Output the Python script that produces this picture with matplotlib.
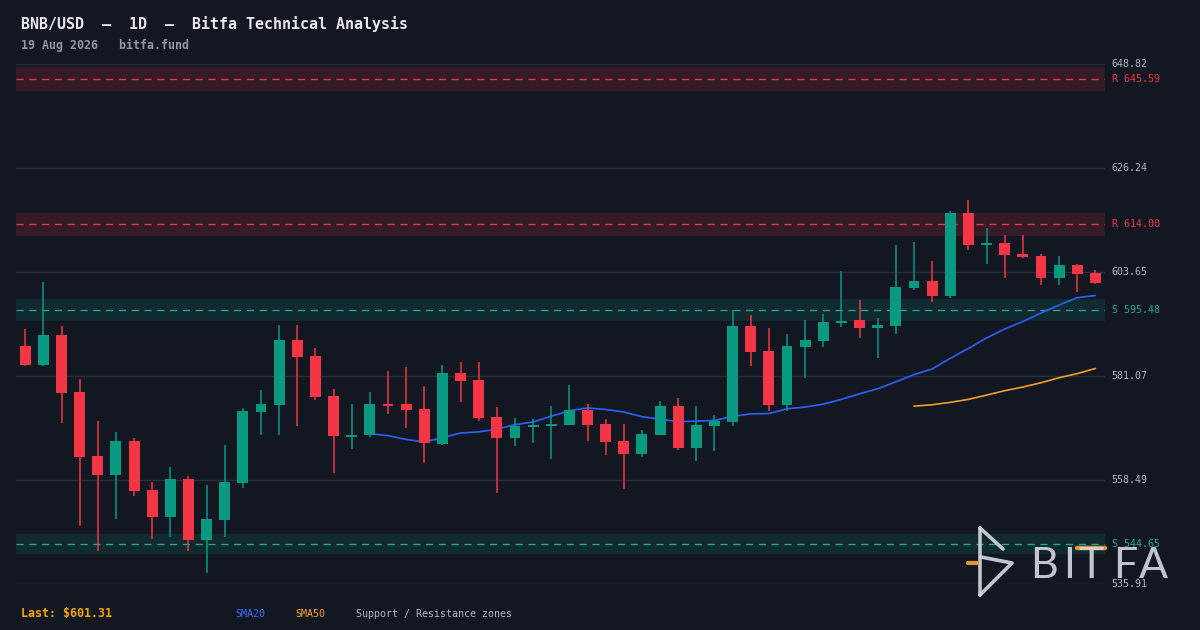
import numpy as np
import pandas as pd
import matplotlib
matplotlib.use("Agg")
import matplotlib.pyplot as plt
from matplotlib.lines import Line2D

# ---------------- data ----------------
opens = [587.65, 583.52, 590.04, 577.66, 563.77, 559.64, 567.02, 556.38, 550.52, 558.77,
         545.53, 549.87, 557.90, 573.32, 574.84, 588.95, 585.48, 576.80, 567.90, 568.32,
         575.06, 575.06, 573.97, 566.37, 581.79, 580.27, 572.23, 567.67, 570.06, 570.28,
         570.50, 573.75, 570.72, 567.02, 564.20, 568.32, 574.62, 565.50, 570.28, 571.15,
         591.99, 586.56, 574.84, 587.43, 588.73, 592.65, 593.29, 591.56, 591.99, 600.24,
         601.76, 598.50, 616.52, 609.58, 610.01, 607.62, 607.19, 602.41, 605.23, 603.50]
highs = [591.34, 601.54, 591.99, 580.48, 571.36, 568.98, 567.67, 558.12, 561.38, 559.42,
         557.47, 566.15, 574.19, 578.09, 592.21, 592.21, 587.21, 578.31, 575.06, 577.66,
         582.22, 583.09, 578.96, 583.52, 584.17, 584.17, 574.40, 572.02, 571.80, 574.62,
         579.18, 575.06, 571.80, 570.72, 569.41, 575.71, 576.36, 574.62, 572.67, 595.46,
         594.38, 591.56, 590.25, 593.29, 594.60, 603.93, 597.64, 593.73, 609.58, 610.23,
         606.10, 616.96, 619.35, 613.14, 611.75, 611.75, 607.62, 607.19, 605.45, 604.15]
lows = [583.30, 583.30, 570.78, 548.41, 543.14, 550.09, 555.08, 545.74, 546.18, 543.14,
        538.36, 546.18, 556.82, 568.32, 568.32, 570.13, 575.92, 560.07, 565.28, 567.89,
        572.88, 569.84, 562.25, 566.15, 575.49, 571.36, 555.58, 565.94, 566.59, 563.11,
        570.40, 567.02, 563.98, 556.60, 563.55, 568.20, 565.06, 562.68, 564.85, 570.28,
        583.31, 573.54, 573.54, 580.70, 587.43, 591.77, 589.38, 585.04, 590.25, 599.81,
        597.20, 598.07, 608.49, 605.45, 602.41, 606.80, 600.89, 600.89, 599.37, 601.00]
closes = [583.52, 590.04, 577.44, 563.55, 559.64, 567.02, 556.17, 550.52, 558.77, 545.53,
          550.09, 558.12, 573.54, 575.06, 588.95, 585.26, 576.58, 568.11, 568.30, 575.06,
          574.62, 573.75, 566.59, 581.79, 580.05, 572.02, 567.67, 570.28, 570.30, 570.60,
          573.75, 570.50, 566.80, 564.20, 568.54, 574.62, 565.50, 570.50, 571.36, 591.99,
          586.35, 574.84, 587.65, 588.95, 592.86, 593.08, 591.56, 592.20, 600.46, 601.76,
          598.50, 616.52, 609.58, 610.00, 607.41, 606.97, 602.41, 605.23, 603.28, 601.31]

resistance_levels = [645.59, 614.00]
support_levels = [595.48, 544.65]
y_ticks = [535.91, 558.49, 581.07, 603.65, 626.24, 648.82]
title_text = "BNB/USD  \u2014  1D  \u2014  Bitfa Technical Analysis"
subtitle_text = "19 Aug 2026   bitfa.fund"
last_price = 601.31

# ---------------- style ----------------
BG = "#131722"
GRID = "#2a2e39"
UP = "#089981"
DOWN = "#f23645"
SUP = "#22ab94"
SMA20_C = "#2962ff"
SMA50_C = "#f0a020"
TXT = "#b2b5be"
MONO = "DejaVu Sans Mono"

W, H = 1200, 630
fig = plt.figure(figsize=(W / 100, H / 100), dpi=100, facecolor=BG)

def fx(px):
    return px / W

def fy(py):
    return 1 - py / H

ax_l, ax_r, ax_t, ax_b = 16, 1105, 64, 584
ax = fig.add_axes([fx(ax_l), fy(ax_b), fx(ax_r - ax_l), (ax_b - ax_t) / H])
ax.set_facecolor(BG)
for s in ax.spines.values():
    s.set_visible(False)
ax.set_xticks([])
ax.set_yticks([])

n = len(closes)
x = np.arange(n)
o = np.array(opens); h = np.array(highs); l = np.array(lows); c = np.array(closes)

ax.set_xlim(-0.51, n - 1 + 0.53)
ax.set_ylim(y_ticks[0], y_ticks[-1])

# grid
for t in y_ticks:
    ax.axhline(t, color=GRID, lw=1.0, zorder=1)

# zones
for lv in resistance_levels:
    hw = lv * 0.004
    ax.axhspan(lv - hw, lv + hw, color=DOWN, alpha=0.15, lw=0, zorder=0.5)
    ax.axhline(lv, color=DOWN, lw=0.95, dashes=(5.4, 4.3), zorder=2)
for lv in support_levels:
    hw = lv * 0.004
    ax.axhspan(lv - hw, lv + hw, color=UP, alpha=0.15, lw=0, zorder=0.5)
    ax.axhline(lv, color=SUP, lw=0.95, dashes=(5.4, 4.3), zorder=2)

# SMAs
cs = pd.Series(closes)
sma20 = cs.rolling(20).mean()
sma50 = cs.rolling(50).mean()
ax.plot(x, sma20, color=SMA20_C, lw=1.2, zorder=3, solid_capstyle="round")
ax.plot(x, sma50, color=SMA50_C, lw=1.2, zorder=3, solid_capstyle="round")

# candles
up = c >= o
cols = np.where(up, UP, DOWN)
ax.vlines(x, l, h, colors=cols, lw=1.1, zorder=4)
body_lo = np.minimum(o, c)
body_h = np.maximum(np.abs(c - o), 0.42)
ax.bar(x, body_h, bottom=body_lo, width=0.6, color=cols, lw=0, zorder=5)

# right-hand labels (figure-level so they sit above the logo)
def ypx(v):
    return ax_b - (v - y_ticks[0]) / (y_ticks[-1] - y_ticks[0]) * (ax_b - ax_t)

lab_px = 1111.7
for t in y_ticks:
    fig.text(fx(lab_px), fy(ypx(t)), f"{t:.2f}", color=TXT, fontsize=7.2, family=MONO,
             va="center", ha="left", zorder=40)
for lv in resistance_levels:
    fig.text(fx(lab_px), fy(ypx(lv)), f"R {lv:.2f}", color=DOWN, fontsize=7.2,
             family=MONO, va="center", ha="left", zorder=40)
for lv in support_levels:
    fig.text(fx(lab_px), fy(ypx(lv)), f"S {lv:.2f}", color=SUP, fontsize=7.2,
             family=MONO, va="center", ha="left", zorder=40)

# titles
fig.text(fx(21), fy(24), title_text, color="#e6e8ee", fontsize=10.8, family=MONO,
         fontweight="bold", va="center", ha="left")
fig.text(fx(21), fy(45), subtitle_text, color="#9598a1", fontsize=8.4, family=MONO,
         fontweight="bold", va="center", ha="left")

# bottom legend
fig.text(fx(21), fy(613), f"Last: ${last_price:.2f}", color="#f7a600", fontsize=8.4,
         family=MONO, fontweight="bold", va="center", ha="left")
fig.text(fx(235.5), fy(614), "SMA20", color="#3d6bff", fontsize=7.2, family=MONO,
         va="center", ha="left")
fig.text(fx(295.5), fy(614), "SMA50", color="#f7a21b", fontsize=7.2, family=MONO,
         va="center", ha="left")
fig.text(fx(355.5), fy(614), "Support / Resistance zones", color=TXT, fontsize=7.2,
         family=MONO, va="center", ha="left")

# logo
LOGO = "#d1d4dc"
def pline(pts, color=LOGO, lw=2.6, alpha=0.92):
    xs = [fx(p[0]) for p in pts]
    ys = [fy(p[1]) for p in pts]
    fig.add_artist(Line2D(xs, ys, color=color, lw=lw, alpha=alpha,
                          solid_capstyle="round", solid_joinstyle="round", zorder=30))

pline([(980, 528), (980, 595)])
pline([(980, 528), (1003, 549)])
pline([(981, 557), (1012, 563), (980, 595)])
pline([(968, 563), (977, 563)], color="#e0962a", lw=3.0, alpha=1.0)

letters = [("B", 1044), ("I", 1069), ("T", 1091), ("F", 1125), ("A", 1153)]
for ch, px in letters:
    fig.text(fx(px), fy(578), ch, color=LOGO, alpha=0.92, fontsize=31, family="Lato",
             va="baseline", ha="center", zorder=30)
pline([(1077, 548), (1105, 548)], color="#e0962a", lw=3.2, alpha=1.0)

fig.savefig("out.png", dpi=100, facecolor=BG)
